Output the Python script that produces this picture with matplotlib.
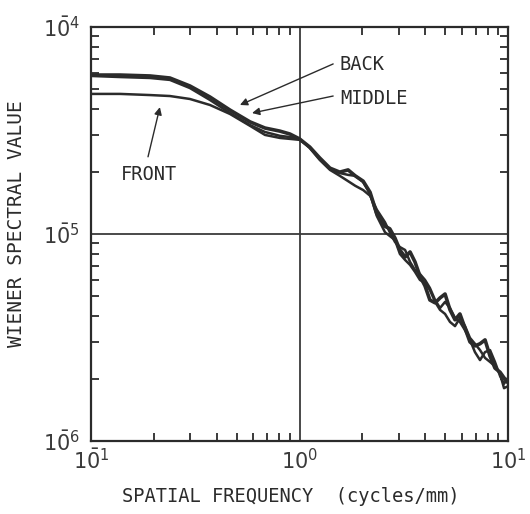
import numpy as np
import matplotlib
matplotlib.use("Agg")
import matplotlib.pyplot as plt
from matplotlib.ticker import LogLocator, NullFormatter, FixedLocator, FixedFormatter

plt.rcParams['font.family'] = ['DejaVu Sans Mono', 'DejaVu Sans']
plt.rcParams['mathtext.fontset'] = 'dejavusans'

# spatial frequency (cycles/mm)
freq = [0.10, 0.138, 0.192, 0.239, 0.298, 0.372, 0.464, 0.579, 0.683, 0.806, 0.90, 1.0,
        1.12, 1.25, 1.40, 1.56, 1.71, 1.85, 2.02, 2.18, 2.35, 2.57, 2.71, 2.87, 3.03,
        3.21, 3.39, 3.58, 3.78, 4.00, 4.22, 4.47, 4.72, 4.99, 5.27, 5.57, 5.88, 6.22,
        6.57, 6.94, 7.34, 7.76, 8.20, 8.66, 9.16, 9.57, 10.0]

# Wiener spectral values, in units of 1e-6
back = [58.6, 58.6, 58.0, 56.7, 51.9, 45.9, 39.7, 34.8, 32.5, 31.4, 30.4, 28.8,
        26.3, 23.3, 20.8, 19.9, 20.4, 19.1, 18.0, 15.9, 12.5, 10.9, 10.6, 9.56, 8.37,
        7.74, 8.19, 7.33, 6.27, 5.61, 4.80, 4.65, 4.91, 5.13, 4.30, 3.85, 4.11, 3.51,
        3.01, 2.88, 2.95, 3.08, 2.57, 2.25, 2.15, 2.02, 1.91]
middle = [58.0, 57.3, 56.7, 55.5, 50.7, 44.4, 38.4, 33.6, 31.1, 29.8, 29.4, 28.8,
          26.0, 22.8, 20.4, 19.1, 18.0, 17.1, 16.3, 15.3, 13.1, 11.4, 10.2, 9.15, 8.65,
          8.37, 7.33, 6.70, 6.41, 6.00, 5.49, 4.80, 4.39, 4.70, 4.39, 3.93, 3.76, 3.43,
          3.08, 2.69, 2.46, 2.69, 2.75, 2.41, 2.06, 1.89, 2.02]
front = [47.5, 47.5, 46.9, 46.4, 44.9, 42.0, 38.0, 33.3, 30.1, 29.1, 28.8, 28.5,
         26.3, 23.0, 20.6, 19.7, 19.3, 19.1, 17.8, 15.6, 12.2, 10.2, 9.78, 9.35, 8.01,
         7.49, 7.09, 6.56, 6.00, 5.80, 5.36, 4.70, 4.30, 4.11, 3.76, 3.59, 3.93, 3.59,
         3.15, 2.95, 2.75, 2.52, 2.41, 2.30, 2.11, 1.80, 1.84]

x_ticks = [0.1, 1.0, 10.0]
x_ticklabels = [r'$1\bar{0}^{1}$', r'$10^{0}$', r'$10^{1}$']
y_ticks = [1e-6, 1e-5, 1e-4]
y_ticklabels = [r'$1\bar{0}^{6}$', r'$1\bar{0}^{5}$', r'$1\bar{0}^{4}$']

ink = '#2b2b2b'

fig = plt.figure(figsize=(5.30, 5.14), dpi=100)
ax = fig.add_axes([0.1717, 0.1420, 0.7868, 0.8055])

ax.plot(freq, np.array(back) * 1e-6, color=ink, lw=2.6, solid_joinstyle='round')
ax.plot(freq, np.array(middle) * 1e-6, color=ink, lw=1.8, solid_joinstyle='round')
ax.plot(freq, np.array(front) * 1e-6, color=ink, lw=1.8, solid_joinstyle='round')

ax.set_xscale('log')
ax.set_yscale('log')
ax.set_xlim(0.1, 10)
ax.set_ylim(1e-6, 1e-4)

# reference lines at 1 cycle/mm and 1e-5
ax.axvline(1.0, color='#3a3a3a', lw=1.3, zorder=1)
ax.axhline(1e-5, color='#3a3a3a', lw=1.3, zorder=1)

for s in ax.spines.values():
    s.set_linewidth(1.6)
    s.set_color(ink)

ax.xaxis.set_major_locator(FixedLocator(x_ticks))
ax.xaxis.set_major_formatter(FixedFormatter(x_ticklabels))
ax.yaxis.set_major_locator(FixedLocator(y_ticks))
ax.yaxis.set_major_formatter(FixedFormatter(y_ticklabels))
ax.xaxis.set_minor_locator(LogLocator(base=10, subs=np.arange(2, 10)))
ax.yaxis.set_minor_locator(LogLocator(base=10, subs=np.arange(2, 10)))
ax.xaxis.set_minor_formatter(NullFormatter())
ax.yaxis.set_minor_formatter(NullFormatter())

ax.tick_params(which='both', direction='in', top=True, right=True, color=ink, width=1.3)
ax.tick_params(which='major', length=0, labelsize=15, labelcolor='#3a3a3a')
ax.tick_params(which='minor', length=6)
ax.tick_params(axis='x', which='major', pad=5)
ax.tick_params(axis='y', which='major', pad=8)

ax.set_xlabel('SPATIAL FREQUENCY  (cycles/mm)', fontsize=13.5, color=ink)
ax.set_ylabel('WIENER SPECTRAL VALUE', fontsize=14, color=ink)
ax.xaxis.set_label_coords(0.48, -0.111)
ax.yaxis.set_label_coords(-0.155, 0.524)

# curve labels with pointer arrows
arrow = dict(arrowstyle='-|>', color=ink, lw=1.0, mutation_scale=11, shrinkA=0, shrinkB=0)
ax.annotate('', xy=(0.518, 4.2e-5), xytext=(1.45, 6.63e-5), arrowprops=arrow)
ax.annotate('', xy=(0.592, 3.84e-5), xytext=(1.45, 4.64e-5), arrowprops=arrow)
ax.annotate('', xy=(0.214, 4.1e-5), xytext=(0.1877, 2.36e-5), arrowprops=arrow)
ax.text(1.55, 6.7e-5, 'BACK', fontsize=13.5, color=ink, va='center_baseline', ha='left')
ax.text(1.57, 4.59e-5, 'MIDDLE', fontsize=13.5, color=ink, va='center_baseline', ha='left')
ax.text(0.139, 1.99e-5, 'FRONT', fontsize=13.5, color=ink, va='center_baseline', ha='left')

fig.savefig('out.png', dpi=100)
